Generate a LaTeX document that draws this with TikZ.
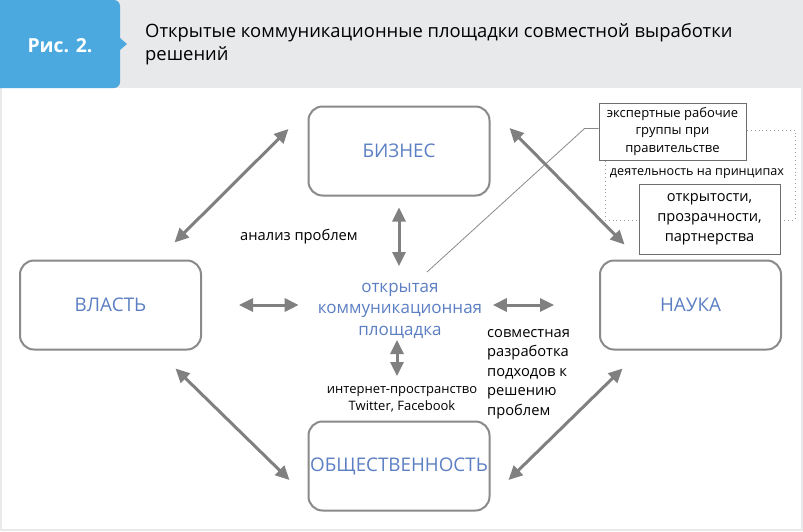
\documentclass[tikz,border=0pt]{standalone}
\usepackage{fontspec}
\setmainfont{Open Sans}
\usetikzlibrary{arrows.meta,calc}
\definecolor{bggray}{HTML}{E8E9EB}
\definecolor{tabblue}{HTML}{4BA9DF}
\definecolor{lblue}{HTML}{5C7FC3}
\definecolor{agray}{HTML}{808080}
\definecolor{bgray}{HTML}{8A8A8A}
\definecolor{tgray}{HTML}{6E6E6E}
\definecolor{dgray}{HTML}{A0A0A0}
\begin{document}
\begin{tikzpicture}[x=1pt,y=-1pt,
  mainbox/.style={draw=bgray, line width=2pt, rounded corners=14pt, minimum width=181pt, minimum height=89pt, text=lblue, font=\fontsize{18.8}{22}\selectfont, inner sep=0pt},
  arr/.style={draw=agray, line width=3pt, {Triangle[length=14pt,width=13pt]}-{Triangle[length=14pt,width=13pt]}},
  lbl/.style={font=\fontsize{14.7}{19.5}\selectfont, inner sep=0pt},
  smalllbl/.style={font=\fontsize{13}{17}\selectfont, inner sep=0pt},
  thinbox/.style={draw=tgray, line width=0.9pt, fill=white, inner sep=0pt, align=center},
]
\useasboundingbox (0,0) rectangle (803,531);
\fill[bggray] (0,0) rectangle (803,531);
\fill[white] (2,88) rectangle (801,529);
\fill[tabblue, rounded corners=6pt] (-10,0) rectangle (120,88);
\fill[tabblue] (120,38) -- (127,44) -- (120,50) -- cycle;
\node[anchor=base, text=white, font=\fontsize{19.4}{22}\selectfont\bfseries, inner sep=0pt] (fig) at (60,52) {Рис. 2.};
\node[anchor=base west, font=\fontsize{18.4}{23}\selectfont, align=left, inner sep=0pt] (title) at (145,60) {Открытые коммуникационные площадки совместной выработки\\решений};

% dotted frame
\draw[dgray, line width=0.9pt, dash pattern=on 0.9pt off 3pt] (605,130) rectangle (795,220);

% main nodes
\node[mainbox] (biz) at (399,151) {БИЗНЕС};
\node[mainbox] (vlast) at (110.5,305) {ВЛАСТЬ};
\node[mainbox] (nauka) at (690.5,305) {НАУКА};
\node[mainbox] (obsh) at (399,466) {ОБЩЕСТВЕННОСТЬ};

\node[anchor=base, align=center, text=lblue, font=\fontsize{17}{21.5}\selectfont, inner sep=0pt] (ctr) at (400,335) {открытая\\коммуникационная\\площадка};

% labels
\node[lbl, anchor=base] (an) at (299,240) {анализ проблем};
\node[lbl, anchor=base west, align=left] (sov) at (487,415) {совместная\\разработка\\подходов к\\решению\\проблем};
\node[smalllbl, anchor=base, align=center] (inet) at (402,410) {интернет-пространство\\Twitter, Facebook};

% expert boxes
\node[thinbox, minimum width=147pt, minimum height=57pt, font=\fontsize{13}{17.5}\selectfont] (exp) at (672.5,131.5) {экспертные рабочие\\группы при\\правительстве};
\node[smalllbl, font=\fontsize{12.6}{17}\selectfont, anchor=base] (prin) at (697,175) {деятельность на принципах};
\node[thinbox, minimum width=141pt, minimum height=70pt, font=\fontsize{14.6}{20}\selectfont] (open) at (709.5,219) {открытости,\\прозрачности,\\партнерства};

\coordinate (lend) at (427,272);
\draw[bgray, line width=0.8pt] ([yshift=3pt]exp.west) -- ++(-14,0) -- (lend);

% arrows
\draw[arr] ([yshift=-11pt]biz.south) -- ($(ctr.base)+(-1,-69)$);
\draw[arr] ($(ctr.base)+(-3,5)$) -- ($(inet.base)+(-5,-34)$);
\draw[arr] ([xshift=37pt]vlast.east) -- ($(ctr.west |- vlast.east)+(-19,0)$);
\draw[arr] ($(ctr.east |- nauka.west)+(10.5,0)$) -- ([xshift=-45pt]nauka.west);
\draw[arr] ([xshift=-19pt,yshift=22pt]biz.west) -- ([xshift=64pt,yshift=17pt]vlast.north);
\draw[arr] ([xshift=19pt,yshift=23pt]biz.east) -- ([xshift=-66pt,yshift=15pt]nauka.north);
\draw[arr] ([xshift=65pt,yshift=-18pt]vlast.south) -- ([xshift=-18pt,yshift=-14pt]obsh.west);
\draw[arr] ([xshift=-68pt,yshift=-18pt]nauka.south) -- ([xshift=18pt,yshift=-14pt]obsh.east);
\end{tikzpicture}
\end{document}
